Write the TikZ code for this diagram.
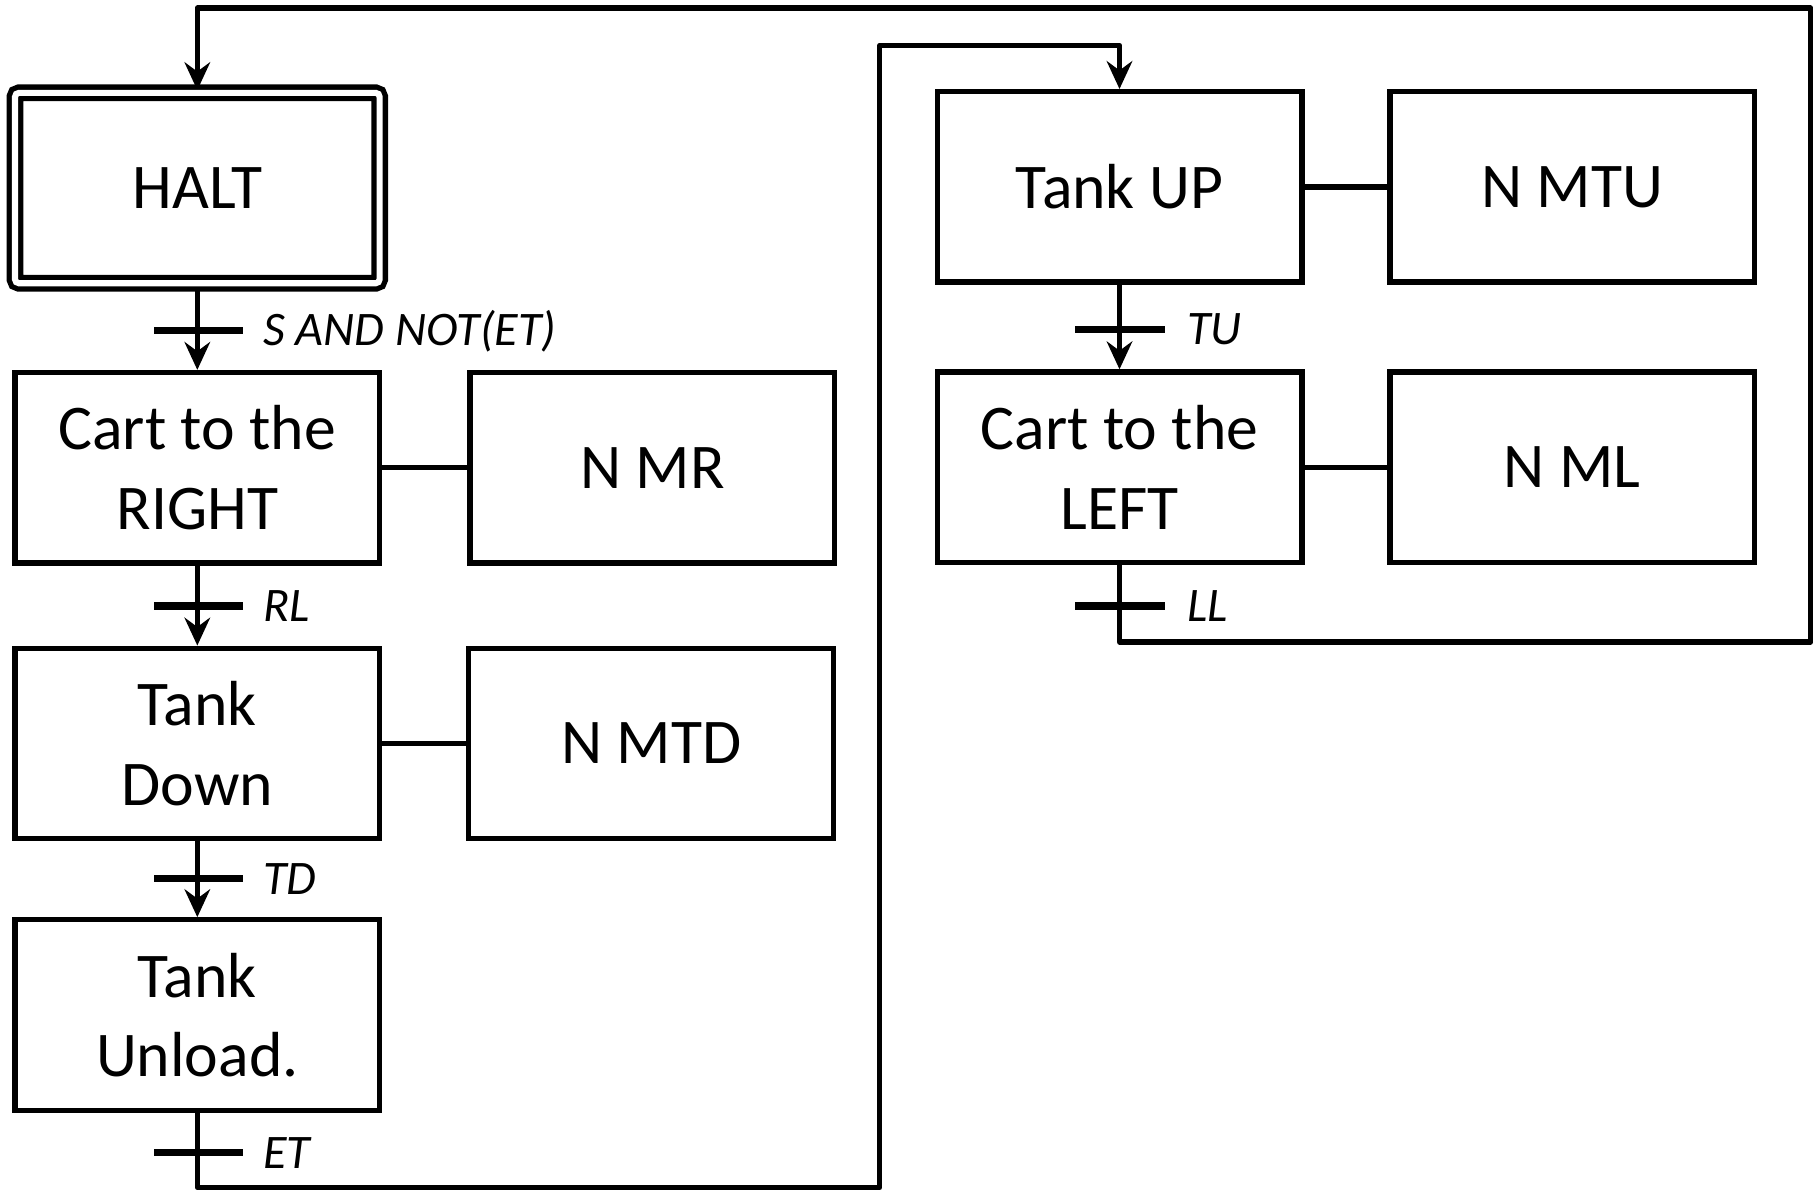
\documentclass[tikz,border=0pt]{standalone}
\usepackage{fontspec}
\setmainfont{Carlito}
\usetikzlibrary{arrows.meta,backgrounds}

\tikzset{
  stepbox/.style={draw, fill=white, line width=1.3pt, minimum width=3.14cm,
    minimum height=1.64cm, align=center, inner sep=2pt,
    font=\fontsize{15.6}{19.5}\selectfont},
  actbox/.style={stepbox},
  initbox/.style={stepbox, double, double distance=1.5pt, rounded corners=1pt},
  tbar/.style={fill=black, minimum width=0.77cm, minimum height=1.8pt, inner sep=0pt},
  cond/.style={anchor=west, inner sep=0pt, font=\fontsize{11.8}{14}\selectfont\itshape},
  flow/.style={line width=1.3pt, line join=round,
    -{Stealth[length=0.24cm, width=0.22cm, inset=0.08cm]}},
  link/.style={line width=1.3pt, line join=round},
}

\begin{document}
\begin{tikzpicture}[x=0.01cm, y=-0.01cm]
  \useasboundingbox (0,0) rectangle (1568,1026);

  % steps and actions
  \node[initbox] (halt) at (170,162) {HALT};
  \node[stepbox] (right) at (170,403) {Cart to the\\RIGHT};
  \node[actbox] (mr) at (562,403) {N MR};
  \node[stepbox] (down) at (170,640.5) {Tank\\Down};
  \node[actbox] (mtd) at (561,640.5) {N MTD};
  \node[stepbox] (unload) at (170,874.5) {Tank\\Unload.};
  \node[stepbox] (up) at (964.5,161) {Tank UP};
  \node[actbox] (mtu) at (1354.5,161) {N MTU};
  \node[stepbox] (left) at (964.5,402.5) {Cart to the\\LEFT};
  \node[actbox] (ml) at (1354.5,402.5) {N ML};

  % transitions
  \node[tbar] (t1) at (171,285) {};
  \node[cond] (c1) at (226,285) {S AND NOT(ET)};
  \node[tbar] (t2) at (171,522) {};
  \node[cond] (c2) at (226,522) {RL};
  \node[tbar] (t3) at (171,757) {};
  \node[cond] (c3) at (226,757) {TD};
  \node[tbar] (t4) at (171,993) {};
  \node[cond] (c4) at (226,993) {ET};
  \node[tbar] (t5) at (965,284) {};
  \node[cond] (c5) at (1022,284) {TU};
  \node[tbar] (t6) at (965,522) {};
  \node[cond] (c6) at (1022,522) {LL};

  \coordinate (b1) at (758,1023);
  \coordinate (b2) at (964.5,39);
  \coordinate (b3) at (1560,553);
  \coordinate (b4) at (170,7);

  \begin{scope}[on background layer]
    \draw[flow] (halt) -- (right);
    \draw[flow] (right) -- (down);
    \draw[flow] (down) -- (unload);
    \draw[flow] (unload.south) |- (b1) |- (b2) -- (up.north);
    \draw[flow] (up) -- (left);
    \draw[flow] (left.south) |- (b3) |- (b4) -- (halt.north);
    \draw[link] (right) -- (mr);
    \draw[link] (down) -- (mtd);
    \draw[link] (up) -- (mtu);
    \draw[link] (left) -- (ml);
  \end{scope}
\end{tikzpicture}
\end{document}
